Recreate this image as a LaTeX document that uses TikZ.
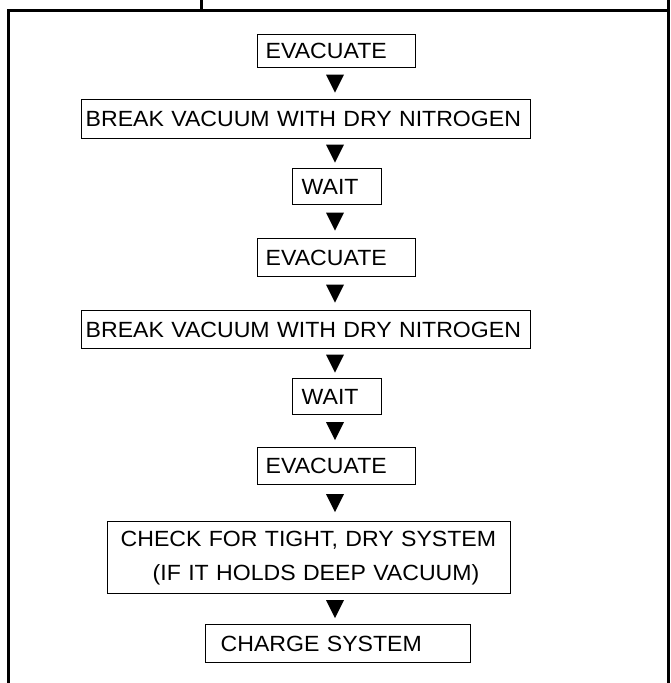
\documentclass[tikz,border=0pt]{standalone}
\usepackage{fontspec}
\setmainfont{Liberation Sans}[FakeStretch=1.05]
\usetikzlibrary{calc}
\begin{document}
\begin{tikzpicture}[x=1pt,y=-1pt,
  frame/.style={line width=3pt},
  stepbox/.style={draw, line width=1.4pt, anchor=north west, align=left,
    font=\fontsize{22}{34}\selectfont, inner ysep=0pt},
  tri/.style={fill=black}]
\useasboundingbox (0,0) rectangle (670,683);
% outer table lines
\draw[frame, line cap=rect] (8,10) -- (8,683);
\draw[frame] (668,0) -- (668,683);
\draw[frame] (8,10) -- (668,10);
\draw[frame] (201,0) -- (201,10);
\coordinate (col) at (335,0);
% boxes: text width + 2*inner xsep = box width
\node[stepbox, inner xsep=8pt, text width=142pt, minimum height=33pt] (e1) at (257,34) {EVACUATE};
\node[stepbox, inner xsep=4pt, text width=441pt, minimum height=39pt] (b1) at (81,99) {BREAK VACUUM WITH DRY NITROGEN};
\node[stepbox, inner xsep=9pt, text width=71pt, minimum height=36pt] (w1) at (292,168) {WAIT};
\node[stepbox, inner xsep=8pt, text width=142pt, minimum height=38pt] (e2) at (257,238) {EVACUATE};
\node[stepbox, inner xsep=4pt, text width=441pt, minimum height=38pt] (b2) at (81,310) {BREAK VACUUM WITH DRY NITROGEN};
\node[stepbox, inner xsep=9pt, text width=71pt, minimum height=36pt] (w2) at (292,378) {WAIT};
\node[stepbox, inner xsep=8pt, text width=142pt, minimum height=37pt] (e3) at (257,447) {EVACUATE};
\node[stepbox, inner xsep=13pt, text width=377pt, minimum height=72pt] (ck) at (107,521) {CHECK FOR TIGHT, DRY SYSTEM\\\hspace*{32pt}(IF IT HOLDS DEEP VACUUM)};
\node[stepbox, inner xsep=15pt, text width=235pt, minimum height=38pt] (ch) at (205,624) {CHARGE SYSTEM};
% arrowheads between boxes
\foreach \a/\b in {e1/b1, b1/w1, w1/e2, e2/b2, b2/w2, w2/e3, e3/ck, ck/ch}{
  \fill[tri] ($(col |- \a.south)!0.5!(col |- \b.north)$) +(-9pt,9pt) -- +(9pt,9pt) -- +(0pt,-9pt) -- cycle;
}
\end{tikzpicture}
\end{document}
